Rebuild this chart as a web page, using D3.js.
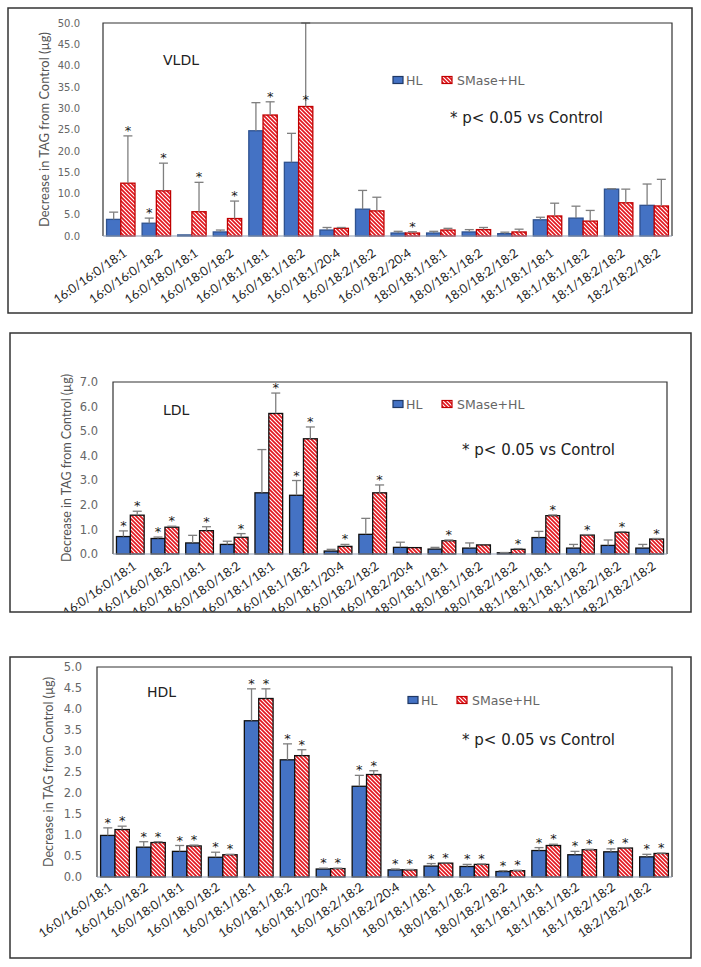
<!DOCTYPE html>
<html><head><meta charset="utf-8">
<script src="https://cdn.jsdelivr.net/npm/d3@7"></script>
<style>body{margin:0;background:#fff}svg{display:block}</style>
</head><body>
<script>
const categories = ["16:0/16:0/18:1","16:0/16:0/18:2","16:0/18:0/18:1","16:0/18:0/18:2","16:0/18:1/18:1","16:0/18:1/18:2","16:0/18:1/20:4","16:0/18:2/18:2","16:0/18:2/20:4","18:0/18:1/18:1","18:0/18:1/18:2","18:0/18:2/18:2","18:1/18:1/18:1","18:1/18:1/18:2","18:1/18:2/18:2","18:2/18:2/18:2"];
const seriesNames = ["HL","SMase+HL"];

// VLDL
const vldlHL    = [3.9, 3.0, 0.25, 0.95, 24.7, 17.3, 1.4, 6.3, 0.7, 0.7, 0.95, 0.55, 3.8, 4.2, 11.0, 7.2];
const vldlHLsd  = [1.7, 1.2, 0, 0.45, 6.6, 6.8, 0.6, 4.4, 0.4, 0.4, 0.55, 0.35, 0.6, 2.8, 0.1, 5.0];
const vldlSM    = [12.4, 10.6, 5.7, 4.1, 28.4, 30.4, 1.8, 5.9, 0.7, 1.4, 1.5, 0.95, 4.7, 3.5, 7.8, 7.05];
const vldlSMsd  = [11.1, 6.5, 6.9, 4.1, 3.1, 19.6, 0.2, 3.2, 0.3, 0.4, 0.5, 0.65, 3.0, 2.5, 3.2, 6.25];
const vldlHLstar= [0,1,0,0,0,0,0,0,0,0,0,0,0,0,0,0];
const vldlSMstar= [1,1,1,1,1,1,0,0,1,0,0,0,0,0,0,0];
const vldlTicks = [0,5,10,15,20,25,30,35,40,45,50];

// LDL
const ldlHL     = [0.71, 0.63, 0.45, 0.39, 2.49, 2.39, 0.12, 0.80, 0.27, 0.20, 0.24, 0.05, 0.67, 0.24, 0.35, 0.24];
const ldlHLsd   = [0.23, 0.06, 0.31, 0.13, 1.76, 0.60, 0.07, 0.65, 0.21, 0.07, 0.21, 0.01, 0.25, 0.15, 0.22, 0.15];
const ldlSM     = [1.58, 1.09, 0.95, 0.68, 5.72, 4.69, 0.31, 2.49, 0.26, 0.54, 0.37, 0.19, 1.56, 0.77, 0.88, 0.61];
const ldlSMsd   = [0.16, 0.04, 0.16, 0.15, 0.83, 0.48, 0.08, 0.32, 0, 0.03, 0, 0.03, 0.03, 0.02, 0.03, 0.02];
const ldlHLstar = [1,1,0,0,0,1,0,0,0,0,0,0,0,0,0,0];
const ldlSMstar = [1,1,1,1,1,1,1,1,0,1,0,1,1,1,1,1];
const ldlTicks  = [0,1,2,3,4,5,6,7];

// HDL
const hdlHL     = [0.99, 0.71, 0.61, 0.47, 3.72, 2.79, 0.19, 2.16, 0.17, 0.26, 0.25, 0.13, 0.63, 0.53, 0.60, 0.48];
const hdlHLsd   = [0.18, 0.13, 0.14, 0.12, 0.76, 0.38, 0.02, 0.26, 0.02, 0.06, 0.05, 0.02, 0.07, 0.08, 0.07, 0.06];
const hdlSM     = [1.13, 0.82, 0.74, 0.53, 4.25, 2.89, 0.20, 2.44, 0.17, 0.33, 0.30, 0.15, 0.75, 0.65, 0.69, 0.56];
const hdlSMsd   = [0.08, 0.02, 0.02, 0.01, 0.23, 0.14, 0.01, 0.09, 0.01, 0.01, 0.01, 0.01, 0.03, 0.01, 0.01, 0.01];
const hdlHLstar = [1,1,1,1,1,1,1,1,1,1,1,1,1,1,1,1];
const hdlSMstar = [1,1,1,1,1,1,1,1,1,1,1,1,1,1,1,1];
const hdlTicks  = [0,0.5,1,1.5,2,2.5,3,3.5,4,4.5,5];

const svg = d3.select("body").append("svg").attr("width",701).attr("height",967);
const defs = svg.append("defs");
const pat = defs.append("pattern").attr("id","hatch").attr("patternUnits","userSpaceOnUse")
  .attr("width",4).attr("height",4);
pat.append("rect").attr("width",4).attr("height",4).attr("fill","#fff");
pat.append("path").attr("d","M-1,-1L5,5M3,-1L5,1M-1,3L1,5").attr("stroke","#e3161e").attr("stroke-width",1.7);

const BLUE = "#4472c4";

function panel(o){
  const g = svg.append("g");
  const clipId = "clip" + o.name;
  defs.append("clipPath").attr("id",clipId).append("rect")
    .attr("x",o.box[0]).attr("y",o.box[1]).attr("width",o.box[2]-o.box[0]).attr("height",o.box[3]-o.box[1]);
  const [l,t,r,b] = o.plot;
  const x = d3.scaleBand().domain(categories).range([l,r]);
  const xs = d3.scaleBand().domain(seriesNames).range([0,x.bandwidth()]).paddingOuter(0.25);
  const y = d3.scaleLinear().domain([0,o.ticks[o.ticks.length-1]]).range([b,t]);

  // y axis
  const ya = g.append("g").attr("transform",`translate(${l},0)`)
    .call(d3.axisLeft(y).tickValues(o.ticks).tickFormat(d3.format(".1f")).tickSize(0).tickPadding(o.tickPad));
  ya.select(".domain").remove();
  ya.selectAll("text").attr("font-family","DejaVu Sans").attr("font-size",o.tickFs).attr("fill","#666");

  // x axis
  const xa = g.append("g").attr("clip-path",`url(#${clipId})`).append("g").attr("transform",`translate(0,${b})`)
    .call(d3.axisBottom(x).tickSize(0).tickPadding(0));
  xa.select(".domain").remove();
  xa.selectAll("text").attr("font-family","Lato").attr("font-size",12.5).attr("fill","#222")
    .attr("text-anchor","end").attr("dy",0).attr("y",0)
    .attr("transform",`translate(${o.lab[0]},${o.lab[1]}) rotate(-35)`);

  const series = [
    {name:"HL", v:o.hl, sd:o.hlSd, star:o.hlStar, fill:BLUE, stroke:o.strokeHL},
    {name:"SMase+HL", v:o.sm, sd:o.smSd, star:o.smStar, fill:"url(#hatch)", stroke:o.strokeSM}
  ];
  const ymax = o.ticks[o.ticks.length-1];
  series.forEach(s=>{
    const gg = g.append("g");
    categories.forEach((c,i)=>{
      const x0 = x(c)+xs(s.name), w = xs.bandwidth(), cx = x0+w/2;
      const v = s.v[i], top = Math.min(v + s.sd[i], ymax);
      gg.append("rect").attr("x",x0).attr("y",y(v)).attr("width",w).attr("height",y(0)-y(v))
        .attr("fill",s.fill).attr("stroke",s.stroke).attr("stroke-width",1.3);
      if (s.sd[i] > 0){
        gg.append("line").attr("x1",cx).attr("x2",cx).attr("y1",y(v)).attr("y2",y(top)).attr("stroke","#7f7f7f").attr("stroke-width",1.3);
        gg.append("line").attr("x1",cx-4.5).attr("x2",cx+4.5).attr("y1",y(top)).attr("y2",y(top)).attr("stroke","#7f7f7f").attr("stroke-width",1.3);
      }
      if (s.star[i]){
        const sy = (v + s.sd[i] >= ymax) ? y(v)-2 : y(top)-1;
        gg.append("text").attr("x",cx).attr("y",sy).attr("text-anchor","middle")
          .attr("font-family","DejaVu Sans").attr("font-size",13).attr("fill","#1a1a1a").text("*");
      }
    });
  });

  // plot border
  g.append("path").attr("d",`M${l},${b}V${t}H${r}V${b}`).attr("fill","none").attr("stroke","#333").attr("stroke-width",1.2);
  g.append("line").attr("x1",l).attr("x2",r).attr("y1",b).attr("y2",b).attr("stroke","#8f9bb0").attr("stroke-width",1.2);

  // y title
  g.append("text").attr("transform",`translate(${o.titleX},${(t+b)/2}) rotate(-90)`)
    .attr("text-anchor","middle").attr("dominant-baseline","central")
    .attr("font-family","Lato").attr("font-size",14).attr("fill","#555")
    .attr("textLength",o.titleLen).attr("lengthAdjust","spacingAndGlyphs")
    .text("Decrease in TAG from Control (µg)");

  // panel name
  g.append("text").attr("x",o.nameXY[0]).attr("y",o.nameXY[1]).attr("dominant-baseline","central")
    .attr("font-family","DejaVu Sans").attr("font-size",14).attr("fill","#222").text(o.name);

  // legend
  const [lx,ly,lgap] = o.legend;
  g.append("rect").attr("x",lx).attr("y",ly-3.5).attr("width",10).attr("height",7).attr("fill",BLUE).attr("stroke","#1f3864").attr("stroke-width",1.2);
  g.append("text").attr("x",lx+13).attr("y",ly).attr("dominant-baseline","central").attr("font-family","DejaVu Sans").attr("font-size",12.5).attr("fill","#666").text("HL");
  g.append("rect").attr("x",lx+lgap).attr("y",ly-3.5).attr("width",10).attr("height",7).attr("fill","url(#hatch)").attr("stroke","#c00000").attr("stroke-width",1.2);
  g.append("text").attr("x",lx+lgap+15).attr("y",ly).attr("dominant-baseline","central").attr("font-family","DejaVu Sans").attr("font-size",12.5).attr("fill","#666").text("SMase+HL");

  g.append("text").attr("x",o.pXY[0]).attr("y",o.pXY[1]).attr("dominant-baseline","central")
    .attr("font-family","DejaVu Sans").attr("font-size",15).attr("fill","#222").text("* p< 0.05 vs Control");

  g.append("rect").attr("x",o.box[0]).attr("y",o.box[1]).attr("width",o.box[2]-o.box[0]).attr("height",o.box[3]-o.box[1])
    .attr("fill","none").attr("stroke","#333").attr("stroke-width",1.5);
}

panel({box:[8,8,692,313], plot:[103,23,672,236], ticks:vldlTicks, hl:vldlHL, hlSd:vldlHLsd, sm:vldlSM, smSd:vldlSMsd,
  hlStar:vldlHLstar, smStar:vldlSMstar, tickFs:10, tickPad:23, strokeHL:"#2f528f", strokeSM:"#c00000",
  titleX:43, titleLen:195, name:"VLDL", nameXY:[163,60], legend:[393,80,49], pXY:[450,118], lab:[7,19]});

panel({box:[10,333,691,612], plot:[113,382,667,554], ticks:ldlTicks, hl:ldlHL, hlSd:ldlHLsd, sm:ldlSM, smSd:ldlSMsd,
  hlStar:ldlHLstar, smStar:ldlSMstar, tickFs:11.5, tickPad:15, strokeHL:"#111", strokeSM:"#111",
  titleX:65, titleLen:188, name:"LDL", nameXY:[163,410], legend:[393,404,49], pXY:[462,450], lab:[7,14]});

panel({box:[10,657,691,958], plot:[97,667,672,877], ticks:hdlTicks, hl:hdlHL, hlSd:hdlHLsd, sm:hdlSM, smSd:hdlSMsd,
  hlStar:hdlHLstar, smStar:hdlSMstar, tickFs:11.5, tickPad:15, strokeHL:"#111", strokeSM:"#111",
  titleX:47, titleLen:190, name:"HDL", nameXY:[147,692], legend:[408,700,49], pXY:[462,740], lab:[-2,12]});
</script>
</body></html>
